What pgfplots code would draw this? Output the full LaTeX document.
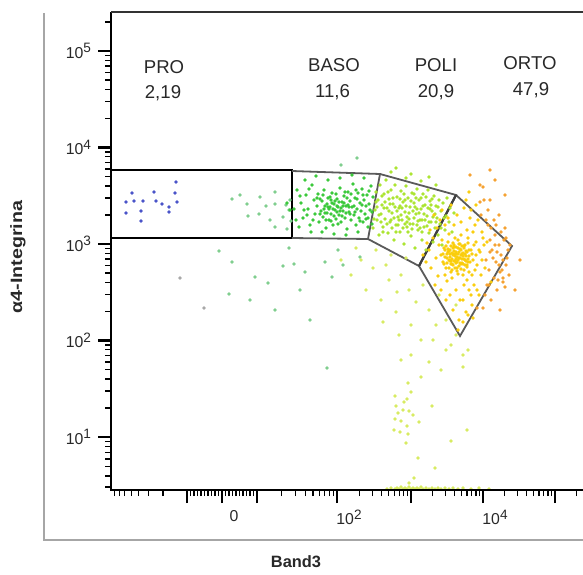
\documentclass[border=0pt]{standalone}
\usepackage{graphicx}
\usepackage{pgfplots}
\pgfplotsset{compat=1.18}
\usepackage{fontspec}
\setmainfont{Liberation Sans}
\newcommand{\tp}[1]{10\raisebox{0.65ex}{\fontsize{6.8}{7}\selectfont #1}}
\definecolor{cpro}{RGB}{70,80,200}
\definecolor{cteal}{RGB}{125,205,140}
\definecolor{cbaso}{RGB}{55,200,55}
\definecolor{cpoli}{RGB}{170,228,45}
\definecolor{cyel}{RGB}{250,205,10}
\definecolor{corg}{RGB}{245,160,45}
\definecolor{clight}{RGB}{215,235,95}
\definecolor{cgate}{RGB}{90,90,90}
\definecolor{ctext}{RGB}{40,40,40}
\begin{document}
\begin{tikzpicture}
\begin{axis}[
  at={(0,0)}, anchor=south west,
  scale only axis, width=236pt, height=239pt,
  xmin=0, xmax=472, ymin=0, ymax=478,
  axis line style={draw=none},
  xtick pos=left, ytick pos=left,
  tick align=outside,
  major tick length=6.5pt, minor tick length=3pt,
  major tick style={line width=1.2pt, black},
  minor tick style={line width=0.6pt, black},
  xtick={76,111,146,226,300,372,444},
  xticklabels={,0,,\tp{2},,\tp{4},},
  minor xtick={3.8,8.4,13.7,20.1,27.8,37.8,51.9,
    79.5,83,86.5,90,93.5,97,100.5,104,107.5,114.5,118,121.5,125,128.5,132,135.5,139,142.5,
    170.1,184.2,194.2,201.9,208.3,213.6,218.2,222.3,
    248.3,261.3,270.6,277.7,283.6,288.5,292.8,296.6,
    321.7,334.4,343.3,350.3,356.0,360.8,365.0,368.7,
    393.7,406.4,415.3,422.3,428.0,432.8,437.0,440.7,465.7},
  ytick={53,149.5,246,342.5,439},
  yticklabels={\tp{1},\tp{2},\tp{3},\tp{4},\tp{5}},
  minor ytick={3.1,14.1,23.5,31.1,37.6,43.2,48.6,
    82.05,99.04,111.1,120.45,128.09,134.55,140.15,145.08,
    178.55,195.54,207.6,216.95,224.59,231.05,236.65,241.58,
    275.05,292.04,304.1,313.45,321.09,327.55,333.15,338.08,
    371.55,388.54,400.6,409.95,417.59,424.05,429.65,434.58,468.05},
  tick label style={font=\fontsize{7.9}{9}\selectfont, text=ctext},
  xticklabel style={xshift=6pt},
  scatter/.style={only marks, mark=*, mark size=0.62pt},
]
% PRO (blue)
\addplot[cpro, scatter] coordinates {(21,297)(15,288)(32,289)(43,298)(45,289)(51,286)(58,283)(64,297)(65,308)(66,288)(15,277)(30,279)(58,278)(30,269)(23,289)};
% gray outliers
\addplot[gray!70, scatter] coordinates {(69,212)(93,182)};
% transitional light green
\addplot[cteal, scatter] coordinates {(121,291)(136,286)(137,274)(148,276)(149,293)(155,284)(164,298)(164,286)(175,285)(172,273)(164,263)(176,261)(179,290)(178,280)(180,269)(129,295)(159,270)
(108,239)(121,228)(118,196)(144,213)(157,207)(172,224)(178,242)(139,190)(164,180)(189,200)(199,170)(183,226)(216,122)
(194,218)(214,228)(227,240)(221,213)(232,225)(249,233)(246,332)(230,325)};
% BASO (green)
\addplot[cbaso, scatter] coordinates {(186,300)(190,287)(192,272)(195,295)(197,281)(199,265)(201,305)(203,290)(204,276)(206,284)(207,296)(208,268)(210,279)(211,289)(212,273)(213,300)(214,284)(215,262)(216,277)(217,292)(218,270)(219,283)(220,276)(221,297)(222,265)(223,286)(224,280)(225,271)(226,291)(227,283)(228,275)(229,302)(230,268)(231,288)(232,279)(233,294)(234,272)(235,284)(236,261)(237,298)(238,278)(239,289)(240,270)(241,283)(242,306)(243,275)(244,292)(245,265)(246,281)(247,297)(248,272)(249,287)(250,279)(251,301)(252,268)(253,290)(254,276)(255,284)(256,295)(257,272)(258,286)(259,280)(260,304)(261,266)(262,293)(188,263)(194,310)(200,258)(205,314)(211,258)(217,310)(223,256)(229,312)(235,255)(241,315)(247,258)(253,312)(183,281)(185,270)(196,275)(209,291)(219,293)(227,266)(233,287)(239,276)(245,300)(251,285)(257,263)(213,281)(221,287)(226,278)(218,281)(224,289)(215,270)(230,282)(236,292)(244,278)(176,287)(179,280)
(189,294)(193,280)(198,301)(202,270)(206,292)(209,276)(212,295)(216,286)(220,269)(222,281)(225,296)(228,288)(231,274)(234,298)(237,285)(240,296)(243,284)(246,291)(249,269)(252,295)(255,271)(258,299)(261,278)(214,277)(217,283)(220,290)(223,274)(226,284)(229,279)(232,284)(235,277)(238,283)};
% POLI (lime)
\addplot[cpoli, scatter] coordinates {(262,262)(264,280)(265,298)(266,270)(267,290)(268,255)(269,305)(270,276)(271,285)(272,263)(273,296)(274,271)(275,310)(276,282)(277,257)(278,291)(279,268)(280,300)(281,277)(282,286)(283,250)(284,305)(285,265)(286,293)(287,273)(288,282)(289,258)(290,299)(291,270)(292,288)(293,246)(294,278)(295,304)(296,263)(297,292)(298,271)(299,283)(300,254)(301,297)(302,266)(303,287)(304,242)(305,276)(306,301)(307,260)(308,290)(309,270)(310,281)(311,250)(312,296)(313,263)(314,285)(315,240)(316,274)(317,300)(318,257)(319,289)(320,268)(321,279)(322,248)(323,294)(324,262)(325,284)(326,272)(327,255)(328,290)(329,266)(330,279)(331,245)(332,287)(334,260)(335,274)(336,292)(338,268)(339,282)(341,258)(343,277)(263,271)(266,283)(271,294)(276,266)(279,286)(283,272)(286,279)(289,291)(292,262)(295,284)(298,277)(301,261)(304,283)(307,269)(310,292)(313,276)(316,264)(319,281)(322,273)(325,268)(281,262)(287,265)(293,296)(299,266)(305,292)(311,258)(317,282)(284,283)(290,275)(296,273)(302,279)(308,277)(314,270)(320,285)(278,279)(274,288)(270,268)(288,270)(294,266)(300,289)(306,265)
(280,318)(295,312)(310,309)(325,305)(285,322)(300,316)(318,313)
(265,288)(268,275)(273,282)(277,298)(282,292)(285,258)(291,282)(294,290)(297,258)(303,296)(306,281)(309,262)(312,284)(315,293)(318,268)(321,291)(324,276)(327,283)(330,262)(333,272)(272,258)(280,270)(289,284)(296,268)(303,272)(311,270)};
% sparse light yellow-green below
\addplot[clight, scatter] coordinates {(240,215)(255,200)(262,222)(270,190)(278,210)(285,178)(290,215)(298,200)(300,165)(305,188)(312,205)(318,180)(322,150)(328,195)(335,170)(340,145)(345,185)(335,140)(325,165)(295,232)(280,235)(265,240)(250,230)(245,242)(230,230)(272,168)(288,155)(300,135)(318,128)(330,120)(310,150)(345,155)(352,135)(357,140)(286,198)(275,225)
(290,130)(310,113)(297,107)(284,94)(296,91)(285,84)(302,75)(284,71)(290,69)(308,68)(296,64)(283,60)(297,56)(289,58)(321,84)(352,123)(356,60)(340,49)(307,32)(324,22)(298,7)(303,12)(295,47)(292,80)(300,98)(293,88)(298,79)(287,77)
(284,1)(286,2)(288,1)(290,3)(292,1)(294,2)(296,1)(298,3)(300,1)(302,2)(304,1)(306,2)(308,1)(310,3)(312,1)(315,2)(318,1)(321,2)(324,1)(327,2)(330,1)(334,2)(338,1)(342,2)(347,1)(352,2)(360,1)(368,2)(378,1)(280,2)(276,1)};
% ORTO spread
\addplot[corg, scatter] coordinates {(372,182)(375,230)(376,205)(377,265)(378,220)(379,250)(380,190)(381,240)(383,212)(384,255)(385,228)(386,200)(388,245)(389,218)(390,235)(392,208)(393,250)(395,225)(397,240)(398,215)(380,262)(385,265)(390,258)(395,252)(378,205)(388,225)(382,232)(387,210)(392,230)(379,238)(384,245)(396,232)(391,220)(386,238)(383,270)(377,280)(388,275)(394,262)(399,245)(373,290)(394,295)(384,310)(409,230)(404,200)(389,180)(379,320)(369,305)(359,315)(392,212)(394,203)(372,303)(379,290)(366,182)(374,195)(370,275)(375,270)(369,288)};
\addplot[cyel, scatter] coordinates {(315,228)(318,240)(320,222)(322,252)(325,232)(326,262)(327,214)(328,245)(329,270)(312,235)(316,247)(319,260)(323,275)(324,205)(330,200)(331,280)(334,265)(335,190)(337,272)(339,195)(340,285)(342,180)(343,265)(345,200)(346,275)(348,170)(350,268)(352,190)(353,282)(355,178)(356,260)(358,200)(359,272)(361,185)(362,258)(363,205)(365,248)(366,225)(367,270)(368,195)(369,238)(370,215)(371,258)(373,245)(355,290)(360,280)(365,285)(347,160)(352,168)(357,175)(362,172)(366,200)(371,230)(376,248)(360,195)(364,265)(357,252)(353,205)(349,190)(368,240)(374,222)(380,208)(361,215)(365,235)(372,252)(358,298)
(330,235)(332,228)(333,242)(335,222)(336,236)(337,248)(338,230)(339,240)(340,218)(341,226)(342,235)(343,245)(344,229)(345,238)(346,222)(347,250)(348,232)(349,241)(350,226)(351,236)(352,215)(353,244)(354,230)(355,239)(356,223)(357,247)(358,234)(359,228)(360,240)(341,212)(344,252)(347,216)(350,255)(353,220)(356,210)(334,215)(331,250)(338,256)(336,209)(362,230)(363,245)(364,220)(339,233)(342,242)(345,227)(348,238)(351,231)(354,225)(346,233)(343,236)(337,238)(340,229)(349,246)(352,237)(357,228)(332,236)(335,244)(358,218)(361,236)(333,226)
(334,233)(336,227)(337,241)(338,222)(339,236)(340,244)(341,231)(342,225)(343,239)(344,234)(345,243)(346,228)(347,236)(348,224)(349,232)(350,240)(351,227)(352,234)(353,242)(354,236)(355,229)(356,238)(341,237)(343,229)(345,231)(347,242)(349,227)(351,244)(353,231)(355,234)(340,226)(338,239)(342,247)(346,219)(350,221)(354,245)(357,231)(336,232)(344,222)(348,246)(352,226)(339,229)(345,236)(350,235)(347,230)(343,243)(356,225)(334,240)(358,240)(341,220)};
% gates
\addplot[sharp plot, mark=none, draw=black, line width=1pt] coordinates {(0,320)(181,320)(181,252)(0,252)};
\addplot[sharp plot, mark=none, draw=cgate, line width=0.9pt] coordinates {(181,319)(269,316)(257,251)(181,252)};
\addplot[sharp plot, mark=none, draw=cgate, line width=0.9pt] coordinates {(269,316)(345,295)(308,224)(257,251)};
\addplot[sharp plot, mark=none, draw=cgate, line width=0.9pt] coordinates {(345,295)(401,244)(349,154)(308,224)(345,295)};
\addplot[sharp plot, mark=none, draw=black!75, line width=1.1pt] coordinates {(345,295)(308,224)};
% gate labels
\begin{scope}[every node/.style={font=\fontsize{9.3}{11}\selectfont, text=ctext}]
\node at (axis cs:53,423) {PRO};
\node at (axis cs:52,397) {2,19};
\node at (axis cs:223,425) {BASO};
\node at (axis cs:221.5,397.5) {11,6};
\node at (axis cs:325,425) {POLI};
\node at (axis cs:325,398) {20,9};
\node at (axis cs:419,427) {ORTO};
\node at (axis cs:420,400) {47,9};
\end{scope}
\end{axis}
% axis frame (left, bottom, top)
\draw[black, line width=0.8pt] (0,239pt) -- (0,0) -- (236pt,0);
\draw[black!80, line width=0.6pt] (0,239pt) -- (236pt,239pt);
% outer frame
\draw[gray!70, line width=0.7pt] (-33.5pt,238.5pt) -- (-33.5pt,-25pt) -- (236pt,-25pt);
% axis titles
\node[font=\bfseries\fontsize{8.2}{10}\selectfont, text=ctext] at (92.5pt,-36pt) {Band3};
\node[rotate=90, font=\bfseries\fontsize{8.2}{10}\selectfont, text=ctext] at (-46.5pt,116.5pt) {\scalebox{1.2}[1]{α4-Integrina}};
\pgfresetboundingbox
\useasboundingbox (-55.5pt,-42pt) rectangle (236pt,245pt);
\end{tikzpicture}
\end{document}
